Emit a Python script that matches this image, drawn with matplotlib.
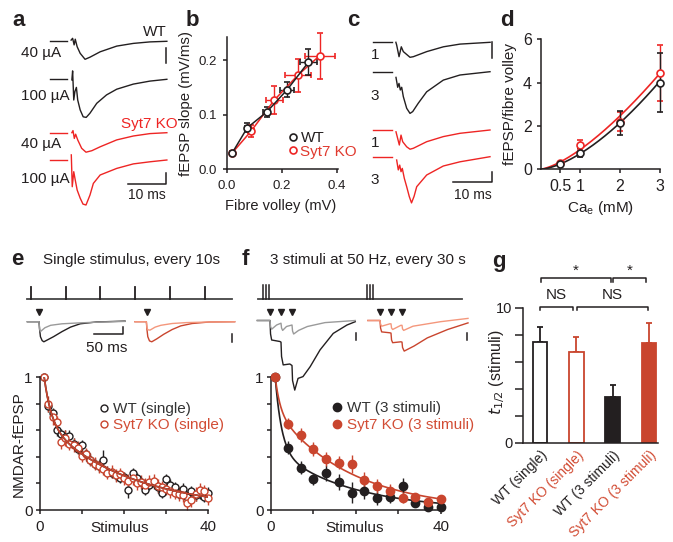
import numpy as np
import matplotlib
matplotlib.use('Agg')
import matplotlib.pyplot as plt
from matplotlib.lines import Line2D

# ---------------- data ----------------
# panel a (time in ms, deflection in arbitrary units; baseline then response)
A_T_PRE = [0, 4.4]
A_V_PRE = [0, 0]
A_T_WT40 = [5.6, 6.0, 6.4, 6.7, 7.2, 8.0, 9.3, 10.6, 13.3, 17.7, 22.1, 26.5, 31.0]
A_V_WT40 = [0.04, 0.10, -0.12, 0.07, -0.18, -0.40, -0.60, -0.53, -0.35, -0.16, -0.07, -0.02, 0.0]
A_T_WT100 = [5.8, 6.0, 6.3, 6.6, 7.0, 7.35, 8.0, 8.8, 9.6, 10.6, 12.4, 15.0, 17.7, 22.1, 26.5, 31.0]
A_V_WT100 = [-0.03, 0.27, -0.70, -0.42, -0.28, -0.70, -1.03, -1.26, -1.28, -1.14, -0.81, -0.53, -0.34, -0.17, -0.07, -0.01]
A_T_KO40 = [5.8, 6.1, 6.45, 6.8, 7.35, 8.4, 9.55, 11.1, 13.3, 17.7, 22.1, 26.5, 31.0]
A_V_KO40 = [0.0, 0.07, -0.19, -0.05, -0.24, -0.52, -0.65, -0.60, -0.47, -0.24, -0.11, -0.03, 0.0]
A_T_KO100 = [5.65, 5.9, 6.3, 6.7, 7.2, 8.0, 8.75, 9.55, 10.6, 11.5, 13.3, 17.7, 22.1, 26.5, 31.0]
A_V_KO100 = [0.17, -0.89, -0.39, -0.67, -1.0, -1.27, -1.47, -1.5, -1.17, -0.78, -0.5, -0.28, -0.13, -0.06, 0.0]
A_LABELS = ['40 µA', '100 µA', '40 µA', '100 µA']

# panel b
B_WT_X = [0.019, 0.074, 0.145, 0.22, 0.297]
B_WT_Y = [0.030, 0.076, 0.105, 0.146, 0.196]
B_WT_XERR = [0.004, 0.009, 0.012, 0.026, 0.03]
B_WT_YERR = [0.003, 0.008, 0.009, 0.014, 0.024]
B_KO_X = [0.019, 0.088, 0.173, 0.258, 0.338]
B_KO_Y = [0.030, 0.070, 0.127, 0.172, 0.208]
B_KO_XERR = [0.004, 0.012, 0.03, 0.048, 0.054]
B_KO_YERR = [0.003, 0.011, 0.025, 0.03, 0.042]

# panel c
C_T_PRE = [0, 4.65]
C_V_PRE = [0, 0]
C_T_WT1 = [5.7, 5.9, 6.5, 7.07, 7.58, 9.27, 10.1, 13.5, 17.7, 21.9, 29.5]
C_V_WT1 = [0.0, -0.09, -0.48, -0.15, -0.31, -0.50, -0.48, -0.31, -0.15, -0.06, 0.0]
C_T_WT3 = [5.73, 6.16, 6.49, 6.82, 7.17, 7.58, 8.43, 9.27, 9.95, 11.36, 13.48, 17.68, 21.89, 29.47]
C_V_WT3 = [-0.19, -0.52, -0.39, -0.61, -0.52, -0.83, -1.22, -1.39, -1.33, -1.05, -0.67, -0.28, -0.11, 0.0]
C_T_KO1 = [5.73, 6.57, 7.0, 7.42, 8.43, 9.27, 10.1, 13.48, 17.68, 21.89, 29.47]
C_V_KO1 = [-0.06, -0.5, -0.17, -0.39, -0.56, -0.64, -0.61, -0.39, -0.22, -0.11, 0.0]
C_T_KO3 = [5.9, 6.31, 6.67, 7.0, 7.32, 7.83, 8.43, 9.09, 9.65, 10.3, 10.96, 13.48, 17.68, 21.89, 29.47]
C_V_KO3 = [-0.09, -0.42, -0.26, -0.48, -0.37, -0.70, -0.98, -1.31, -1.52, -1.3, -0.98, -0.59, -0.29, -0.15, 0.02]
C_LABELS = ['1', '3', '1', '3']

# panel d
D_CA = [0.5, 1, 2, 3]
D_WT = [0.23, 0.77, 2.12, 4.0]
D_WT_ERR = [0.05, 0.2, 0.55, 1.35]
D_KO = [0.3, 1.12, 2.2, 4.46]
D_KO_ERR = [0.05, 0.25, 0.45, 1.3]

# panel e traces (ms from stimulus)
E_T_GRAY = [-21, -0.5, 0.5, 2, 5, 10, 20, 40, 70, 110, 151]
E_V_GRAY = [0, 0, -0.25, -0.33, -0.28, -0.2, -0.12, -0.07, -0.04, -0.01, 0.01]
E_T_BLACK = [-21, -0.5, 0.5, 2, 5, 8, 15, 25, 40, 55, 72, 100, 151]
E_V_BLACK = [0, 0, -0.25, -0.5, -0.63, -0.67, -0.6, -0.5, -0.33, -0.18, -0.07, -0.01, 0.02]
E_T_LIGHT = [-20.6, -0.5, 0.5, 2, 6, 15, 25, 45, 70, 110, 155]
E_V_LIGHT = [0, 0, -0.2, -0.27, -0.28, -0.18, -0.12, -0.06, -0.03, -0.01, 0]
E_T_DARK = [-20.6, -0.5, 0.5, 2, 5, 9, 18, 30, 45, 60, 80, 110, 155]
E_V_DARK = [0, 0, -0.25, -0.5, -0.64, -0.67, -0.57, -0.42, -0.26, -0.14, -0.06, -0.01, 0]

# panel e data
STIM_E = list(range(1, 41))
E_WT = [1.0, 0.78, 0.73, 0.60, 0.57, 0.55, 0.56, 0.50, 0.46, 0.49, 0.42, 0.38, 0.35, 0.33, 0.38,
        0.29, 0.28, 0.26, 0.24, 0.25, 0.15, 0.28, 0.24, 0.21, 0.15, 0.19, 0.20, 0.17, 0.13, 0.23,
        0.19, 0.17, 0.12, 0.16, 0.10, 0.14, 0.11, 0.12, 0.10, 0.13]
E_WT_ERR = [0.0, 0.04, 0.04, 0.04, 0.04, 0.05, 0.04, 0.04, 0.04, 0.04, 0.04, 0.04, 0.04, 0.04, 0.07,
            0.04, 0.04, 0.04, 0.04, 0.04, 0.06, 0.04, 0.04, 0.04, 0.04, 0.04, 0.04, 0.04, 0.04, 0.04,
            0.04, 0.04, 0.04, 0.04, 0.04, 0.04, 0.04, 0.04, 0.04, 0.04]
E_KO = [1.0, 0.80, 0.70, 0.66, 0.51, 0.54, 0.50, 0.49, 0.47, 0.41, 0.42, 0.38, 0.35, 0.33, 0.31,
        0.28, 0.29, 0.26, 0.27, 0.24, 0.22, 0.24, 0.20, 0.21, 0.19, 0.21, 0.22, 0.18, 0.17, 0.16,
        0.14, 0.13, 0.12, 0.11, 0.05, 0.075, 0.12, 0.15, 0.14, 0.09]
E_KO_ERR = [0.0, 0.06, 0.06, 0.05, 0.05, 0.06, 0.05, 0.05, 0.05, 0.05, 0.05, 0.05, 0.05, 0.05, 0.05,
            0.05, 0.05, 0.05, 0.05, 0.05, 0.05, 0.05, 0.05, 0.05, 0.05, 0.05, 0.05, 0.05, 0.05, 0.05,
            0.05, 0.05, 0.05, 0.05, 0.05, 0.05, 0.05, 0.05, 0.05, 0.05]

# panel f traces
F_T_GRAY = [-23, 0, 1, 3, 12, 20, 21, 23, 30, 40, 41, 43, 52, 68, 100, 155]
F_V_GRAY = [0, 0, -0.2, -0.29, -0.15, -0.09, -0.25, -0.33, -0.2, -0.15, -0.35, -0.45, -0.33, -0.2, -0.07, 0]
F_T_BLACK = [-23, 0, 1, 3, 18, 20, 21, 24, 36, 40, 41, 45, 51, 60, 73, 91, 115, 140, 155]
F_V_BLACK = [0, 0, -0.45, -0.65, -0.7, -0.72, -1.2, -1.48, -1.45, -1.5, -2.0, -2.32, -1.93, -1.87, -1.54, -0.98, -0.43, -0.15, -0.04]
F_T_LIGHT = [-22, 0, 1, 3, 18, 20, 21, 23, 38, 40, 41, 43, 60, 110, 160]
F_V_LIGHT = [0, 0, -0.12, -0.19, -0.11, -0.11, -0.25, -0.3, -0.16, -0.16, -0.28, -0.33, -0.19, -0.04, 0.07]
F_T_DARK = [-22, 0, 1, 3, 18, 20, 21, 23, 38, 40, 41, 44, 62, 86, 123, 160]
F_V_DARK = [0, 0, -0.25, -0.38, -0.41, -0.42, -0.65, -0.74, -0.71, -0.72, -0.9, -1.02, -0.85, -0.58, -0.3, -0.08]
F_STIMS = [0, 20, 40]

# panel f data
STIM_F = [1, 4, 7, 10, 13, 16, 19, 22, 25, 28, 31, 34, 37, 40]
F_WT = [1.0, 0.47, 0.32, 0.23, 0.28, 0.21, 0.13, 0.14, 0.09, 0.10, 0.18, 0.05, 0.025, 0.02]
F_WT_ERR = [0.0, 0.05, 0.05, 0.04, 0.06, 0.06, 0.08, 0.06, 0.05, 0.05, 0.06, 0.03, 0.03, 0.02]
F_KO = [1.0, 0.65, 0.565, 0.46, 0.385, 0.357, 0.347, 0.226, 0.18, 0.146, 0.093, 0.10, 0.058, 0.08]
F_KO_ERR = [0.0, 0.04, 0.05, 0.05, 0.05, 0.05, 0.07, 0.06, 0.05, 0.05, 0.04, 0.03, 0.03, 0.03]

# panel g
G_LABELS = ['WT (single)', 'Syt7 KO (single)', 'WT (3 stimuli)', 'Syt7 KO (3 stimuli)']
G_VALUES = [7.48, 6.74, 3.36, 7.36]
G_ERR = [1.06, 1.06, 0.91, 1.48]

# ---------------- style ----------------
W, H = 673, 542
BLACK = '#231f20'
RED = '#ee2524'
RED_B = '#e0392e'
ORED = '#c9452e'
ORED_T = '#d24d35'
SALMON = '#f4977c'
GRAY = '#9a9a9a'
FS = 11

plt.rcParams['font.family'] = ['Liberation Sans', 'DejaVu Sans']
plt.rcParams['font.size'] = FS
plt.rcParams['axes.linewidth'] = 1.1
plt.rcParams['axes.edgecolor'] = BLACK
plt.rcParams['xtick.major.width'] = 1.1
plt.rcParams['ytick.major.width'] = 1.1
plt.rcParams['xtick.major.size'] = 3.2
plt.rcParams['ytick.major.size'] = 3.2
plt.rcParams['xtick.major.pad'] = 2
plt.rcParams['ytick.major.pad'] = 2
plt.rcParams['xtick.color'] = BLACK
plt.rcParams['ytick.color'] = BLACK
plt.rcParams['text.color'] = BLACK
plt.rcParams['axes.labelcolor'] = BLACK

fig = plt.figure(figsize=(W / 100, H / 100), dpi=100)


def make_ax(l, t, r, b, xmap, ymap):
    ax = fig.add_axes([l / W, 1 - b / H, (r - l) / W, (b - t) / H])
    p0, v0, p1, v1 = xmap
    s = (v1 - v0) / (p1 - p0)
    ax.set_xlim(v0 + (l - p0) * s, v0 + (r - p0) * s)
    q0, w0, q1, w1 = ymap
    s2 = (w1 - w0) / (q1 - q0)
    ax.set_ylim(w0 + (b - q0) * s2, w0 + (t - q0) * s2)
    ax.set_facecolor('none')
    return ax


def ftext(x, y, s, **kw):
    fig.text(x / W, 1 - y / H, s, **kw)


def style_axes(ax, tick_fs=FS, xpad=2, ypad=2):
    ax.spines['top'].set_visible(False)
    ax.spines['right'].set_visible(False)
    ax.tick_params(direction='out', labelsize=tick_fs)
    ax.tick_params(axis='x', pad=xpad)
    ax.tick_params(axis='y', pad=ypad)


def legend_at(ax, handles, labels, colors, x_px, y_px, hl, htp, ls, fs=FS):
    leg = ax.legend(handles, labels, loc='center left',
                    bbox_to_anchor=(x_px / W, 1 - y_px / H), bbox_transform=fig.transFigure,
                    frameon=False, borderpad=0, borderaxespad=0, handlelength=hl,
                    handletextpad=htp, labelspacing=ls, fontsize=fs)
    for t, c in zip(leg.get_texts(), colors):
        t.set_color(c)
    return leg


def fit_decay(x, y):
    x = np.asarray(x, float) - 1
    y = np.asarray(y, float)
    A = np.linspace(0.05, 0.95, 19)[:, None, None, None]
    T1 = np.geomspace(0.3, 15, 30)[None, :, None, None]
    T2 = np.geomspace(4, 300, 30)[None, None, :, None]
    pred = A * np.exp(-x / T1) + (1 - A) * np.exp(-x / T2)
    err = ((pred - y) ** 2).sum(-1)
    i = np.unravel_index(err.argmin(), err.shape)
    a, t1, t2 = A.ravel()[i[0]], T1.ravel()[i[1]], T2.ravel()[i[2]]
    xs = np.linspace(0, 39, 300)
    return xs + 1, a * np.exp(-xs / t1) + (1 - a) * np.exp(-xs / t2)


TR_LW = 1.0

# ---------------- panel a ----------------
axA = make_ax(40, 25, 178, 212, (50, 0, 87.7, 10), (41.3, 0, 71.3, -1))
axA.axis('off')
A_BASE_PX = [41.3, 79.0, 132.7, 160.0]
a_off = [-(b - 41.3) / 30 for b in A_BASE_PX]
a_traces = [(A_T_WT40, A_V_WT40, BLACK), (A_T_WT100, A_V_WT100, BLACK),
            (A_T_KO40, A_V_KO40, RED), (A_T_KO100, A_V_KO100, RED)]
for (tt, vv, c), off in zip(a_traces, a_off):
    axA.plot(A_T_PRE, np.array(A_V_PRE) + off, color=c, lw=TR_LW)
    axA.plot(tt, np.array(vv) + off, color=c, lw=TR_LW)
axA.plot([30.8, 30.8], [-0.22, -0.73], color=BLACK, lw=1.1)
axA.plot([20.8, 30.8, 30.8], [-4.77, -4.77, -4.4], color=BLACK, lw=1.1)
ftext(147, 195, '10 ms', ha='center', va='center', fontsize=10)
for lab, yp in zip(A_LABELS, [52.5, 96, 144, 179]):
    ftext(21, yp, lab, ha='left', va='center', fontsize=FS)
ftext(167, 32, 'WT', ha='right', va='center', fontsize=FS)
ftext(178, 124, 'Syt7 KO', ha='right', va='center', color=RED, fontsize=FS)

# ---------------- panel b ----------------
axB = make_ax(227, 37, 338, 169.3, (227, 0, 336.7, 0.4), (169.3, 0, 60, 0.2))
style_axes(axB, tick_fs=9.5, xpad=4.5, ypad=4)
axB.errorbar(B_KO_X, B_KO_Y, xerr=B_KO_XERR, yerr=B_KO_YERR, color=RED, marker='o', mfc='white',
             mec=RED, ms=5, mew=1.2, capsize=2.5, elinewidth=1, capthick=1, lw=1.1, clip_on=False)
axB.errorbar(B_WT_X, B_WT_Y, xerr=B_WT_XERR, yerr=B_WT_YERR, color=BLACK, marker='o', mfc='white',
             mec=BLACK, ms=5, mew=1.2, capsize=2.5, elinewidth=1, capthick=1, lw=1.1, clip_on=False)
axB.set_xticks([0, 0.2, 0.4])
axB.set_xticklabels(['0.0', '0.2', '0.4'])
axB.set_yticks([0, 0.1, 0.2])
axB.set_yticklabels(['0.0', '0.1', '0.2'])
axB.set_xlabel('Fibre volley (mV)', fontsize=10.5)
axB.set_ylabel('fEPSP slope (mV/ms)', fontsize=10.8)
axB.xaxis.set_label_coords(0.48, -0.225)
axB.yaxis.set_label_coords(-0.305, 0.5)
hB = [Line2D([], [], ls='none', marker='o', mfc='white', mec=BLACK, ms=5, mew=1.2),
      Line2D([], [], ls='none', marker='o', mfc='white', mec=RED, ms=5, mew=1.2)]
legend_at(axB, hB, ['WT', 'Syt7 KO'], [BLACK, RED_B], 289.5, 145, 0.5, 0.22, -0.05, fs=FS)

# ---------------- panel c ----------------
axC = make_ax(365, 25, 500, 212, (373.3, 0, 412.9, 10), (42.3, 0, 72.3, -1))
axC.axis('off')
C_BASE_PX = [42.3, 71.7, 130.0, 157.3]
c_off = [-(b - 42.3) / 30 for b in C_BASE_PX]
c_traces = [(C_T_WT1, C_V_WT1, BLACK), (C_T_WT3, C_V_WT3, BLACK),
            (C_T_KO1, C_V_KO1, RED), (C_T_KO3, C_V_KO3, RED)]
for (tt, vv, c), off in zip(c_traces, c_off):
    axC.plot(C_T_PRE, np.array(C_V_PRE) + off, color=c, lw=TR_LW)
    axC.plot(tt, np.array(vv) + off, color=c, lw=TR_LW)
axC.plot([29.9, 29.9], [0.02, -0.53], color=BLACK, lw=1.1)
axC.plot([20.05, 29.9, 29.9], [-4.65, -4.65, -4.31], color=BLACK, lw=1.1)
ftext(473, 195, '10 ms', ha='center', va='center', fontsize=10)
for lab, yp in zip(C_LABELS, [55, 96, 143, 180]):
    ftext(375, yp, lab, ha='center', va='center', fontsize=FS)

# ---------------- panel d ----------------
axD = make_ax(540.7, 39.3, 660, 169.3, (540, 0, 660, 3), (169.3, 0, 39.3, 6))
style_axes(axD, tick_fs=11.5, xpad=4, ypad=3)
xs_d = np.linspace(0.02, 3, 200)
for vals, c in [(D_KO, RED), (D_WT, BLACK)]:
    n, lna = np.polyfit(np.log(D_CA), np.log(vals), 1)
    axD.plot(np.r_[0, xs_d], np.r_[0, np.exp(lna) * xs_d ** n], color=c, lw=1.2)
axD.errorbar(D_CA, D_KO, yerr=D_KO_ERR, fmt='o', color=RED, mfc='white', mec=RED, ms=5, mew=1.2,
             capsize=2.5, elinewidth=1, capthick=1, clip_on=False)
axD.errorbar(D_CA, D_WT, yerr=D_WT_ERR, fmt='o', color=BLACK, mfc='white', mec=BLACK, ms=5, mew=1.2,
             capsize=2.5, elinewidth=1, capthick=1, clip_on=False)
axD.set_xticks([0.5, 1, 2, 3])
axD.set_xticklabels(['0.5', '1', '2', '3'])
axD.set_yticks([0, 2, 4, 6])
axD.set_xlabel('Ca$_\\mathregular{e}$ (mM)')
axD.set_ylabel('fEPSP/fibre volley')
axD.xaxis.set_label_coords(0.5, -0.228)
axD.yaxis.set_label_coords(-0.2, 0.5)

# ---------------- panel e ----------------
axEt = make_ax(20, 280, 240, 302, (31, 0, 65.7, 10), (299.3, 0, 286.7, 1))
axEt.axis('off')
axEt.plot([-1.07, 58], [0, 0], color='#444444', lw=1.3)
for s in [0, 10, 20, 30, 40, 50]:
    axEt.plot([s, s], [0, 1], color=BLACK, lw=1.3)

axEtr = make_ax(20, 300, 240, 355, (39.3, 0, 67.7, 50), (321.7, 0, 351.7, -1))
axEtr.axis('off')
E_RED_SHIFT = 189
axEtr.plot(E_T_BLACK, E_V_BLACK, color=BLACK, lw=TR_LW)
axEtr.plot(E_T_GRAY, E_V_GRAY, color=GRAY, lw=TR_LW)
axEtr.plot(np.array(E_T_DARK) + E_RED_SHIFT, E_V_DARK, color=ORED, lw=TR_LW)
axEtr.plot(np.array(E_T_LIGHT) + E_RED_SHIFT, E_V_LIGHT, color=SALMON, lw=TR_LW)
axEtr.plot([0, E_RED_SHIFT], [0.33, 0.33], ls='none', marker='v', color=BLACK, ms=5)
axEtr.plot([96.8, 146.8, 146.8], [-0.41, -0.41, -0.18], color=BLACK, lw=1.1)
axEtr.plot([339.8, 339.8], [-0.41, -0.67], color=BLACK, lw=1.1)
ftext(107, 348, '50 ms', ha='center', va='center', fontsize=FS)

axE = make_ax(40, 377.3, 208.3, 510, (40, 0, 208.3, 40), (510, 0, 377.3, 1))
style_axes(axE, xpad=4)
for vals, err, c in [(E_WT, E_WT_ERR, BLACK), (E_KO, E_KO_ERR, ORED)]:
    xf, yf = fit_decay(STIM_E, vals)
    axE.plot(xf, yf, color=c, lw=1.2, zorder=3)
axE.errorbar(STIM_E, E_WT, yerr=E_WT_ERR, fmt='o', color=BLACK, mfc='white', mec=BLACK, ms=5,
             mew=1.0, elinewidth=1, capsize=0, clip_on=False, zorder=2)
axE.errorbar(STIM_E, E_KO, yerr=E_KO_ERR, fmt='o', color=ORED, mfc='white', mec=ORED, ms=5,
             mew=1.0, elinewidth=1, capsize=0, clip_on=False, zorder=2)
axE.set_xticks([0, 10, 20, 30, 40])
axE.set_xticklabels(['0', '', '', '', '40'])
axE.set_yticks([0, 0.2, 0.4, 0.6, 0.8, 1.0])
axE.set_yticklabels(['0', '', '', '', '', '1'])
axE.set_xlabel('Stimulus')
axE.set_ylabel('NMDAR-fEPSP')
axE.xaxis.set_label_coords(0.475, -0.083)
axE.yaxis.set_label_coords(-0.085, 0.5)
hE = [Line2D([], [], ls='none', marker='o', mfc='white', mec=BLACK, ms=5, mew=1.0),
      Line2D([], [], ls='none', marker='o', mfc='white', mec=ORED, ms=5, mew=1.0)]
legend_at(axE, hE, ['WT (single)', 'Syt7 KO (single)'], ['#333333', ORED_T], 100, 417.2, 0.52, 0.35, 0.1)

# ---------------- panel f ----------------
axFt = make_ax(250, 280, 475, 302, (262.7, 0, 366.7, 30), (299.3, 0, 285, 1))
axFt.axis('off')
axFt.plot([-1.27, 57.6], [0, 0], color='#444444', lw=1.3)
for s0 in [0, 30]:
    for k in [0, 0.95, 1.9]:
        axFt.plot([s0 + k, s0 + k], [0, 1], color=BLACK, lw=1.1)

axFtr = make_ax(250, 300, 475, 400, (270, 0, 281, 20), (320.5, 0, 350.5, -1))
axFtr.axis('off')
F_RED_SHIFT = 200
axFtr.plot(F_T_BLACK, F_V_BLACK, color=BLACK, lw=TR_LW)
axFtr.plot(F_T_GRAY, F_V_GRAY, color=GRAY, lw=TR_LW)
axFtr.plot(np.array(F_T_DARK) + F_RED_SHIFT, F_V_DARK, color=ORED, lw=TR_LW)
axFtr.plot(np.array(F_T_LIGHT) + F_RED_SHIFT, F_V_LIGHT, color=SALMON, lw=TR_LW)
axFtr.plot(F_STIMS + [s + F_RED_SHIFT for s in F_STIMS], [0.29] * 6, ls='none', marker='v',
           color=BLACK, ms=5)
axFtr.plot([156.4, 156.4], [-0.42, -0.65], color=BLACK, lw=1.1)
axFtr.plot([357.6, 357.6], [-0.42, -0.65], color=BLACK, lw=1.1)

axF = make_ax(271, 377.3, 440.7, 510, (271, 0, 440.7, 40), (510, 0, 377.3, 1))
style_axes(axF, xpad=4)
for vals, c in [(F_WT, BLACK), (F_KO, ORED)]:
    xf, yf = fit_decay(STIM_F, vals)
    axF.plot(xf, yf, color=c, lw=1.2, zorder=2)
axF.errorbar(STIM_F, F_WT, yerr=F_WT_ERR, fmt='o', color=BLACK, ms=6, elinewidth=1, capsize=0,
             clip_on=False, zorder=3)
axF.errorbar(STIM_F, F_KO, yerr=F_KO_ERR, fmt='o', color=ORED, ms=6, elinewidth=1, capsize=0,
             clip_on=False, zorder=3)
axF.set_xticks([0, 10, 20, 30, 40])
axF.set_xticklabels(['0', '', '', '', '40'])
axF.set_yticks([0, 0.2, 0.4, 0.6, 0.8, 1.0])
axF.set_yticklabels(['0', '', '', '', '', '1'])
axF.set_xlabel('Stimulus')
axF.xaxis.set_label_coords(0.495, -0.083)
hF = [Line2D([], [], ls='none', marker='o', color=BLACK, ms=6),
      Line2D([], [], ls='none', marker='o', color=ORED, ms=6)]
legend_at(axF, hF, ['WT (3 stimuli)', 'Syt7 KO (3 stimuli)'], ['#333333', ORED_T], 332.7, 416.7, 0.52, 0.4, 0.16)

# ---------------- panel g ----------------
axG = make_ax(522.7, 307.7, 658, 442.7, (540, 0, 649, 3), (442.7, 0, 307.7, 10))
style_axes(axG, tick_fs=10.5, ypad=1.5)
axG.tick_params(axis='y', length=6)
gx = np.arange(len(G_VALUES))
faces = ['white', 'white', BLACK, ORED]
edges = [BLACK, ORED, BLACK, ORED]
axG.bar(gx, G_VALUES, width=0.41, color=faces, edgecolor=edges, linewidth=1.3, zorder=2)
for xi, v, e, c in zip(gx, G_VALUES, G_ERR, edges):
    axG.errorbar([xi], [v], yerr=[[0], [e]], fmt='none', ecolor=c, elinewidth=1.3, capsize=2.5,
                 capthick=1.3, zorder=1)
axG.set_yticks([0, 2, 4, 6, 8, 10])
axG.set_yticklabels(['0', '', '', '', '', '10'])
axG.set_xticks(gx)
axG.set_xticklabels(G_LABELS, rotation=45, ha='right', rotation_mode='anchor', fontsize=10)
for t, c in zip(axG.get_xticklabels(), [BLACK, ORED_T, BLACK, ORED_T]):
    t.set_color(c)
axG.tick_params(axis='x', length=0, pad=4)
axG.set_ylabel('$t_{1/2}$ (stimuli)', fontsize=11.5)
axG.yaxis.set_label_coords(-0.115, 0.52)


def bracket(ax, x0, x1, y, h, txt, ty):
    ax.plot([x0, x0, x1, x1], [y - h, y, y, y - h], color=BLACK, lw=1.1, clip_on=False)
    ax.text((x0 + x1) / 2, ty, txt, ha='center', va='center', clip_on=False, fontsize=FS)


bracket(axG, 0.0, 0.9, 10.07, 0.25, 'NS', 10.95)
bracket(axG, 1.03, 2.96, 10.07, 0.25, 'NS', 10.95)
bracket(axG, 0.03, 1.95, 12.2, 0.3, '*', 12.75)
bracket(axG, 2.0, 2.92, 12.2, 0.3, '*', 12.75)

# ---------------- titles / panel letters ----------------
for lab, x, y in [('a', 19, 20), ('b', 192, 20), ('c', 353, 21), ('d', 507, 21),
                  ('e', 17, 260), ('f', 245, 259), ('g', 499, 261)]:
    ftext(x, y, lab, ha='center', va='center', fontsize=16, fontweight='bold')
ftext(43, 260, 'Single stimulus, every 10s', ha='left', va='center', fontsize=FS)
ftext(270, 260, '3 stimuli at 50 Hz, every 30 s', ha='left', va='center', fontsize=FS)

fig.savefig('out.png', dpi=100)
